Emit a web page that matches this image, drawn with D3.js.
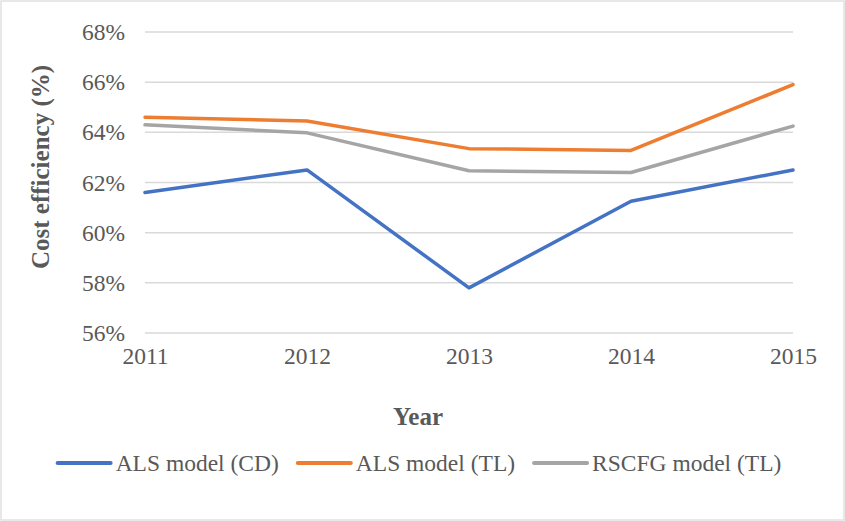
<!DOCTYPE html>
<html>
<head>
<meta charset="utf-8">
<script src="https://cdn.jsdelivr.net/npm/d3@7/dist/d3.min.js"></script>
<style>
  html, body { margin: 0; padding: 0; background: #fff; }
  svg { display: block; }
  text { font-family: "Liberation Serif", "Times New Roman", serif; fill: #595959; }
</style>
</head>
<body>
<svg id="chart" width="845" height="521"></svg>
<script>
const years = ["2011", "2012", "2013", "2014", "2015"];
const yTicks = [56, 58, 60, 62, 64, 66, 68];
const seriesNames = ["ALS model (CD)", "ALS model (TL)", "RSCFG model (TL)"];
const alsCD = [61.6, 62.5, 57.8, 61.25, 62.5];
const alsTL = [64.6, 64.45, 63.35, 63.28, 65.9];
const rscfgTL = [64.3, 63.98, 62.47, 62.4, 64.25];
const colors = ["#4472C4", "#ED7D31", "#A5A5A5"];

const series = [alsCD, alsTL, rscfgTL].map((vals, i) => ({
  name: seriesNames[i], color: colors[i],
  values: vals.map((v, j) => ({ year: years[j], v }))
}));

const W = 845, H = 521;
const margin = { left: 145, right: 52, top: 32, bottom: 188 };
const svg = d3.select("#chart");

svg.append("rect").attr("x", 1).attr("y", 1).attr("width", W - 2).attr("height", H - 2)
  .attr("fill", "#fff").attr("stroke", "#D9D9D9").attr("stroke-width", 1.2);

const x = d3.scalePoint().domain(years).range([margin.left, W - margin.right]);
const y = d3.scaleLinear().domain([56, 68]).range([H - margin.bottom, margin.top]);

// gridlines
svg.append("g").selectAll("line").data(yTicks).join("line")
  .attr("x1", margin.left).attr("x2", W - margin.right)
  .attr("y1", d => y(d)).attr("y2", d => y(d))
  .attr("stroke", "#D9D9D9").attr("stroke-width", 1.5);

// y axis labels
const yAxis = d3.axisLeft(y).tickValues(yTicks).tickFormat(d => d + "%").tickSize(0).tickPadding(20);
const gy = svg.append("g").attr("transform", `translate(${margin.left},0)`).call(yAxis);
gy.select(".domain").remove();
gy.selectAll("text").attr("font-size", "23.5px").attr("fill", "#595959")
  .style("font-family", "'Liberation Serif', serif");

// x axis labels
const xAxis = d3.axisBottom(x).tickSize(0).tickPadding(14);
const gx = svg.append("g").attr("transform", `translate(0,${H - margin.bottom})`).call(xAxis);
gx.select(".domain").remove();
gx.selectAll("text").attr("font-size", "23.5px").attr("fill", "#595959")
  .style("font-family", "'Liberation Serif', serif");

// lines
const line = d3.line().x(d => x(d.year)).y(d => y(d.v));
svg.append("g").selectAll("path").data(series).join("path")
  .attr("d", d => line(d.values))
  .attr("fill", "none").attr("stroke", d => d.color)
  .attr("stroke-width", 3.5).attr("stroke-linejoin", "round").attr("stroke-linecap", "round");

// axis titles
svg.append("text").attr("x", 418).attr("y", 425).attr("text-anchor", "middle")
  .attr("font-size", "25px").attr("font-weight", "bold").text("Year");
svg.append("text").attr("transform", "translate(49,167) rotate(-90)").attr("text-anchor", "middle")
  .attr("font-size", "25px").attr("font-weight", "bold").text("Cost efficiency (%)");

// legend
const legend = svg.append("g");
const lineLen = 53, gapText = 5, gapItem = 19, legY = 463;
const items = legend.selectAll("g").data(series).join("g");
items.append("line").attr("x1", 0).attr("x2", lineLen).attr("y1", 0).attr("y2", 0)
  .attr("stroke", d => d.color).attr("stroke-width", 4).attr("stroke-linecap", "round");
items.append("text").attr("x", lineLen + gapText).attr("y", 0).attr("dy", "0.33em")
  .attr("font-size", "23.5px").text(d => d.name);
let widths = [];
items.each(function() { widths.push(this.getBBox().width); });
const total = d3.sum(widths) + gapItem * (widths.length - 1);
let cx = 419.5 - total / 2;
items.each(function(d, i) {
  d3.select(this).attr("transform", `translate(${cx},${legY})`);
  cx += widths[i] + gapItem;
});
</script>
</body>
</html>
